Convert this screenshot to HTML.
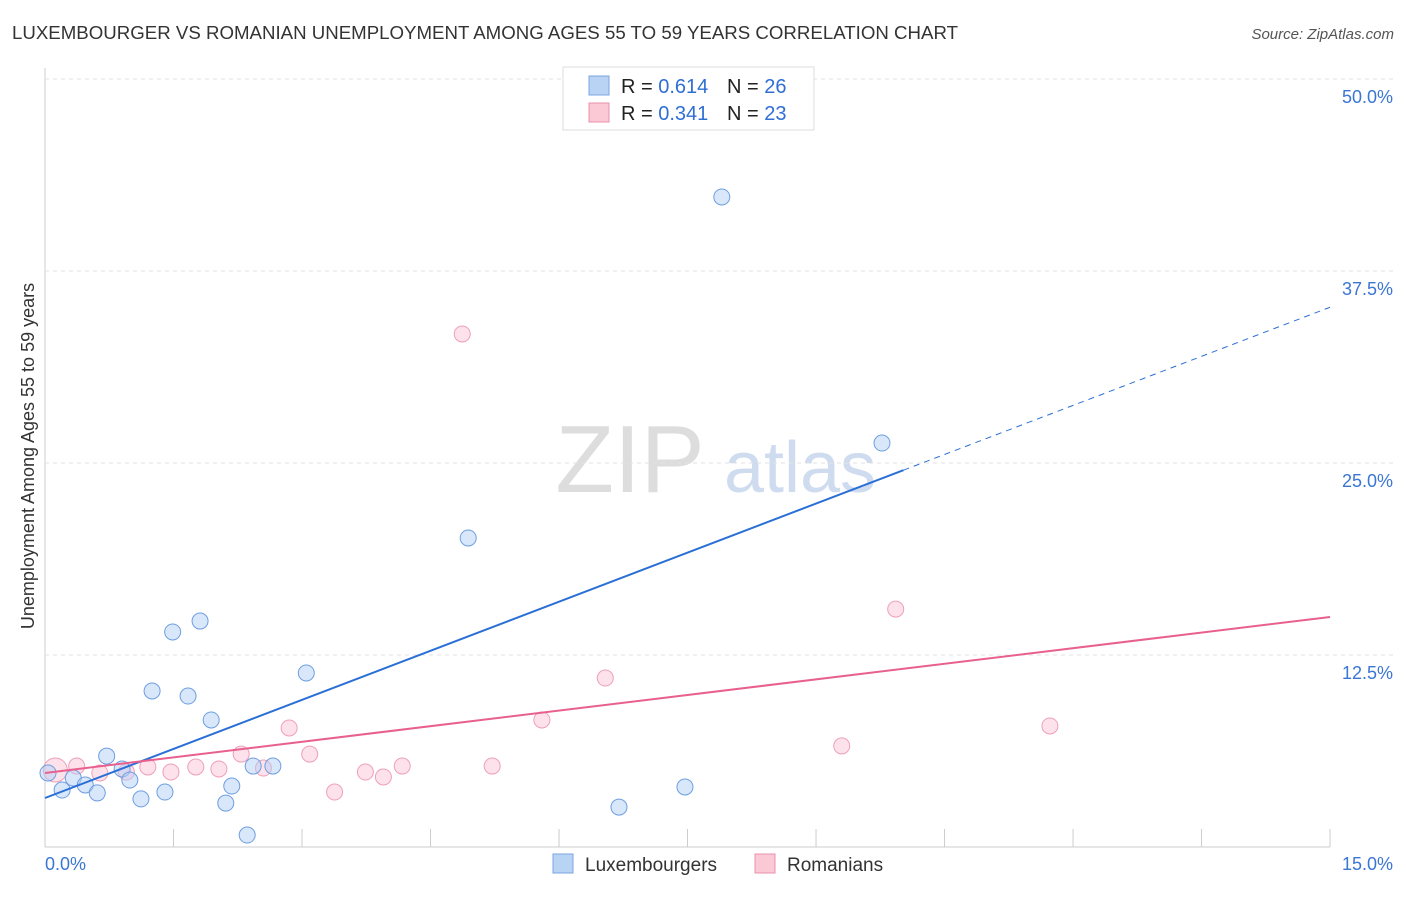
<!DOCTYPE html>
<html><head><meta charset="utf-8"><style>
body{margin:0;background:#fff;font-family:"Liberation Sans",sans-serif;}
svg text{font-family:"Liberation Sans",sans-serif;}
</style></head><body>
<svg id="c" width="1406" height="892" xmlns="http://www.w3.org/2000/svg">
<text x="12" y="39" font-size="18" fill="#333" textLength="946" lengthAdjust="spacingAndGlyphs">LUXEMBOURGER VS ROMANIAN UNEMPLOYMENT AMONG AGES 55 TO 59 YEARS CORRELATION CHART</text>
<text x="1394" y="39" font-size="15" fill="#555" font-style="italic" text-anchor="end">Source: ZipAtlas.com</text>
<text x="630" y="492" font-size="96" fill="#ddd" font-family="Liberation Serif" text-anchor="middle">ZIP</text>
<text x="800" y="492" font-size="72" fill="#cfdcf0" text-anchor="middle">atlas</text>
<text transform="translate(34,456) rotate(-90)" font-size="18" fill="#333" text-anchor="middle">Unemployment Among Ages 55 to 59 years</text>
<g id="grid"></g><g id="marks"></g>
<g>
<rect x="563" y="67" width="251" height="63" fill="#fff" stroke="#ddd"/>
<rect x="589" y="76" width="20" height="19" fill="#b9d3f5" stroke="#7aa6e0"/>
<rect x="589" y="103" width="20" height="19" fill="#fbc8d6" stroke="#e890ab"/>
<text x="621" y="93" font-size="20" fill="#222">R = <tspan fill="#2f6fd4">0.614</tspan></text>
<text x="727" y="93" font-size="20" fill="#222">N = <tspan fill="#2f6fd4">26</tspan></text>
<text x="621" y="120" font-size="20" fill="#222">R = <tspan fill="#2f6fd4">0.341</tspan></text>
<text x="727" y="120" font-size="20" fill="#222">N = <tspan fill="#2f6fd4">23</tspan></text>
</g>
<g>
<rect x="553" y="854" width="20" height="19" fill="#b9d3f5" stroke="#7aa6e0"/>
<text x="585" y="871" font-size="19" fill="#333">Luxembourgers</text>
<rect x="755" y="854" width="20" height="19" fill="#fbc8d6" stroke="#e890ab"/>
<text x="787" y="871" font-size="19" fill="#333">Romanians</text>
</g>
</svg>
<script>
const xTicks=[0,1.5,3,4.5,6,7.5,9,10.5,12,13.5,15];
const yTicks=[12.5,25,37.5,50];
const yTickLabels=["12.5%","25.0%","37.5%","50.0%"];
const luxX=[0.035,0.20,0.33,0.47,0.61,0.72,0.90,0.99,1.12,1.25,1.40,1.49,1.67,1.81,1.94,2.11,2.18,2.36,2.43,2.66,3.05,4.94,6.70,7.47,7.90,9.77];
const luxY=[4.82,3.71,4.49,4.04,3.52,5.92,5.08,4.36,3.13,10.16,3.58,14.0,9.83,14.71,8.27,2.86,3.97,0.78,5.27,5.27,11.33,20.12,2.60,3.91,42.32,26.30];
const romX=[0.12,0.37,0.64,0.95,1.20,1.47,1.76,2.03,2.29,2.55,2.85,3.09,3.38,3.74,3.95,4.17,4.87,5.22,5.80,6.54,9.30,9.93,11.73];
const romY=[5.01,5.27,4.82,4.88,5.21,4.88,5.21,5.08,6.05,5.14,7.75,6.05,3.58,4.88,4.56,5.27,33.4,5.27,8.27,11.0,6.58,15.49,7.88];
const luxTrend=[3.19,2.13]; const romTrend=[4.82,0.677];
const X=v=>45+v*85.67, Y=v=>847-v*15.36;
const NS="http://www.w3.org/2000/svg";
function mk(p,t,a){const e=document.createElementNS(NS,t);for(const k in a)e.setAttribute(k,a[k]);p.appendChild(e);return e;}
const g=document.getElementById('grid'), m=document.getElementById('marks');
mk(g,'line',{x1:45,y1:68,x2:45,y2:847,stroke:'#ccc'});
mk(g,'line',{x1:45,y1:847,x2:1330,y2:847,stroke:'#ccc'});
xTicks.forEach(v=>{const l=mk(g,'line',{x1:X(v),y1:829,x2:X(v),y2:847,stroke:'#ccc'});

});
yTicks.forEach((v,i)=>{const l=mk(g,'line',{x1:45,y1:Y(v),x2:1394,y2:Y(v),stroke:'#e2e2e2','stroke-dasharray':'4,4'});


const t=mk(g,'text',{x:1393,y:Y(v)+24,'font-size':18,fill:'#3a76d4','text-anchor':'end'});t.textContent=yTickLabels[i];

});
const x0=mk(g,'text',{x:45,y:870,'font-size':18,fill:'#3a76d4'});x0.textContent='0.0%';


const x1=mk(g,'text',{x:1393,y:870,'font-size':18,fill:'#3a76d4','text-anchor':'end'});x1.textContent='15.0%';


romX.forEach((v,i)=>{const c=mk(m,'circle',{cx:X(v),cy:Y(romY[i]),r:i==0?12:8,fill:'rgba(250,190,210,0.45)',stroke:'#eea0b8'});

});
luxX.forEach((v,i)=>{const c=mk(m,'circle',{cx:X(v),cy:Y(luxY[i]),r:8,fill:'rgba(180,208,245,0.5)',stroke:'#6e9ee0'});

});
const bl=mk(m,'line',{x1:X(0),y1:Y(luxTrend[0]),x2:X(10.02),y2:Y(luxTrend[0]+luxTrend[1]*10.02),stroke:'#2a6fd6','stroke-width':2});


const bd=mk(m,'line',{x1:X(10.02),y1:Y(luxTrend[0]+luxTrend[1]*10.02),x2:X(15),y2:Y(luxTrend[0]+luxTrend[1]*15),stroke:'#2a6fd6','stroke-width':1,'stroke-dasharray':'6,5'});


const pl=mk(m,'line',{x1:X(0),y1:Y(romTrend[0]),x2:X(15),y2:Y(romTrend[0]+romTrend[1]*15),stroke:'#e8608e','stroke-width':2});


</script>
</body></html>
